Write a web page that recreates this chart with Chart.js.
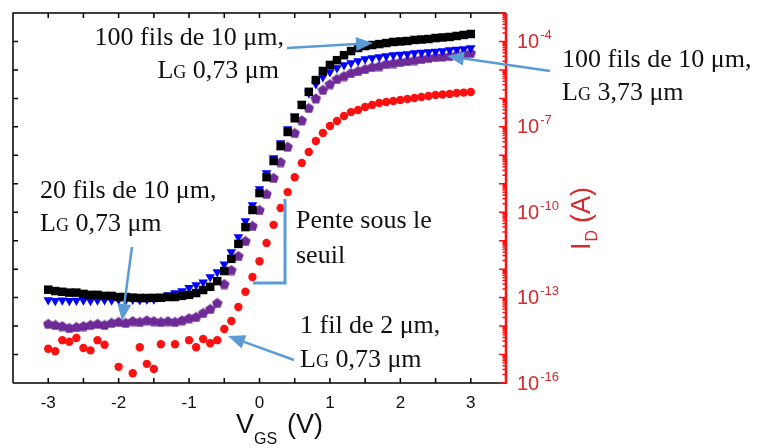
<!DOCTYPE html>
<html>
<head>
<meta charset="utf-8">
<script src="https://cdn.jsdelivr.net/npm/chart.js@4.4.1/dist/chart.umd.min.js"></script>
<style>
  html, body { margin: 0; padding: 0; background: #fff; }
</style>
</head>
<body>
<canvas id="grafico" width="768" height="448"></canvas>
<script>
// V_GS (V)
const vgs = [
  -3, -2.9, -2.8, -2.7, -2.6, -2.5, -2.4, -2.3, -2.2, -2.1,
  -2, -1.9, -1.8, -1.7, -1.6, -1.5, -1.4, -1.3, -1.2, -1.1,
  -1, -0.9, -0.8, -0.7, -0.6, -0.5, -0.4, -0.3, -0.2, -0.1,
  0,
  0.1, 0.2, 0.3, 0.4, 0.5, 0.6, 0.7, 0.8, 0.9, 1,
  1.1, 1.2, 1.3, 1.4, 1.5, 1.6, 1.7, 1.8, 1.9, 2,
  2.1, 2.2, 2.3, 2.4, 2.5, 2.6, 2.7, 2.8, 2.9, 3
];

// I_D (A) — 100 fils de 10 µm, LG 0,73 µm (carrés noirs)
const id100fils073 = [
  1.9e-13, 1.7e-13, 1.6e-13, 1.5e-13, 1.5e-13, 1.35e-13, 1.25e-13, 1.25e-13, 1.15e-13, 1.15e-13,
  1.05e-13, 1.05e-13, 1.0e-13, 9.7e-14, 9.7e-14, 9.8e-14, 9.9e-14, 1.05e-13, 1.05e-13, 1.15e-13,
  1.25e-13, 1.45e-13, 1.85e-13, 2.4e-13, 3.8e-13, 8.6e-13, 2.3e-12, 7.7e-12, 3.0e-11, 1.2e-10,
  4.7e-10,
  1.7e-9, 6.3e-9, 2.1e-8, 6.6e-8, 2.0e-7, 5.9e-7, 1.7e-6, 4.4e-6, 9.2e-6, 1.5e-5,
  2.2e-5, 3.3e-5, 4.6e-5, 5.9e-5, 6.9e-5, 7.5e-5, 8.1e-5, 8.8e-5, 9.6e-5, 1.0e-4,
  1.04e-4, 1.13e-4, 1.17e-4, 1.22e-4, 1.32e-4, 1.38e-4, 1.44e-4, 1.56e-4, 1.69e-4, 1.83e-4
];

// 100 fils de 10 µm, LG 3,73 µm (triangles bleus)
const id100fils373 = [
  8.2e-14, 7.8e-14, 8.0e-14, 7.7e-14, 7.9e-14, 8.1e-14, 7.8e-14, 8.0e-14, 8.3e-14, 8.0e-14,
  8.4e-14, 8.2e-14, 8.5e-14, 8.3e-14, 8.6e-14, 8.8e-14, 1.05e-13, 1.24e-13, 1.45e-13, 1.71e-13,
  2.2e-13, 2.8e-13, 3.5e-13, 5.3e-13, 7.9e-13, 1.5e-12, 4.0e-12, 1.35e-11, 4.9e-11, 1.8e-10,
  6.6e-10,
  2.4e-9, 8.1e-9, 2.7e-8, 8.4e-8, 2.4e-7, 6.4e-7, 1.55e-6, 3.2e-6, 5.6e-6, 8.5e-6,
  1.17e-5, 1.5e-5, 1.75e-5, 2.06e-5, 2.4e-5, 2.6e-5, 2.85e-5, 3.1e-5, 3.35e-5, 3.5e-5,
  3.6e-5, 3.9e-5, 4.1e-5, 4.3e-5, 4.4e-5, 4.6e-5, 5.0e-5, 5.2e-5, 5.4e-5, 5.9e-5
];

// 20 fils de 10 µm, LG 0,73 µm (pentagones violets)
const id20fils073 = [
  1.2e-14, 1.1e-14, 1.0e-14, 8.6e-15, 9.3e-15, 1.0e-14, 1.1e-14, 1.2e-14, 1.1e-14, 1.3e-14,
  1.4e-14, 1.3e-14, 1.5e-14, 1.4e-14, 1.6e-14, 1.5e-14, 1.4e-14, 1.5e-14, 1.4e-14, 1.6e-14,
  1.9e-14, 2.1e-14, 2.9e-14, 4.0e-14, 6.5e-14, 3.0e-13, 9.3e-13, 2.9e-12, 9.8e-12, 3.3e-11,
  1.2e-10,
  4.4e-10, 1.6e-9, 5.8e-9, 2.0e-8, 6.1e-8, 1.7e-7, 4.6e-7, 1.0e-6, 2.0e-6, 3.2e-6,
  4.8e-6, 6.1e-6, 7.8e-6, 9.2e-6, 1.08e-5, 1.27e-5, 1.37e-5, 1.62e-5, 1.75e-5, 1.9e-5,
  2.06e-5, 2.23e-5, 2.42e-5, 2.63e-5, 2.85e-5, 2.97e-5, 3.09e-5, 3.35e-5, 3.63e-5, 3.94e-5
];

// 1 fil de 2 µm, LG 0,73 µm (ronds rouges) — null : point absent
const id1fil073 = [
  1.6e-15, 1.3e-15, 3.2e-15, 2.8e-15, 3.8e-15, 1.7e-15, 1.4e-15, 3.2e-15, 2.2e-15, null,
  3.7e-16, null, 2.2e-16, 1.8e-15, 4.7e-16, 3.1e-16, 2.3e-15, null, 2.3e-15, null,
  3.2e-15, 1.8e-15, 3.5e-15, 2.5e-15, 3.2e-15, 7.9e-15, 1.5e-14, 4.7e-14, 1.6e-13, 5.3e-13,
  1.9e-12,
  8.3e-12, 3.6e-11, 1.4e-10, 5.1e-10, 1.7e-9, 5.4e-9, 1.3e-8, 3.2e-8, 6.1e-8, 1.07e-7,
  1.6e-7, 2.4e-7, 3.3e-7, 3.9e-7, 5.0e-7, 5.9e-7, 6.9e-7, 7.5e-7, 8.1e-7, 8.8e-7,
  9.5e-7, 1.03e-6, 1.12e-6, 1.21e-6, 1.32e-6, 1.37e-6, 1.43e-6, 1.55e-6, 1.6e-6, 1.68e-6
];

// Axes
const xTickLabels = [-3, -2, -1, 0, 1, 2, 3];
const xTickMarks = [-3, -2.5, -2, -1.5, -1, -0.5, 0, 0.5, 1, 1.5, 2, 2.5, 3];
const yLabelExp = [-16, -13, -10, -7, -4];
const yDecadeExp = [-16, -15, -14, -13, -12, -11, -10, -9, -8, -7, -6, -5, -4, -3];

const ROUGE = '#ff1010';
const ROUGE_TXT = '#d42a2f';
const BLEU_FL = '#5b9bd5';
const SANS = '"Liberation Sans", Arial, sans-serif';
const SERIF = '"Liberation Serif", "Times New Roman", serif';

const puntos = serie => vgs.map((v, i) => ({ x: v, y: serie[i] })).filter(p => p.y !== null);

// pentagone pour la série violette
const pentagono = document.createElement('canvas');
pentagono.width = 11;
pentagono.height = 11;
{
  const c = pentagono.getContext('2d');
  c.fillStyle = '#6e2a96';
  c.beginPath();
  for (let k = 0; k < 5; k++) {
    const a = -Math.PI / 2 + k * 2 * Math.PI / 5;
    c.lineTo(5.5 + 5.5 * Math.cos(a), 6 + 5.5 * Math.sin(a));
  }
  c.closePath();
  c.fill();
}

function texto(ctx, partes, x, y, alinear) {
  const anchos = partes.map(([t, s]) => { ctx.font = `${s}px ${SERIF}`; return ctx.measureText(t).width; });
  let cx = alinear === 'right' ? x - anchos.reduce((a, b) => a + b, 0) : x;
  ctx.fillStyle = '#111';
  ctx.textAlign = 'left';
  ctx.textBaseline = 'alphabetic';
  partes.forEach(([t, s], i) => {
    ctx.font = `${s}px ${SERIF}`;
    ctx.fillText(t, cx, y);
    cx += anchos[i];
  });
}

function flecha(ctx, x1, y1, x2, y2) {
  const ang = Math.atan2(y2 - y1, x2 - x1), L = 17, W = 7;
  const bx = x2 - L * Math.cos(ang), by = y2 - L * Math.sin(ang);
  ctx.strokeStyle = BLEU_FL;
  ctx.fillStyle = BLEU_FL;
  ctx.lineWidth = 2.5;
  ctx.beginPath();
  ctx.moveTo(x1, y1);
  ctx.lineTo(bx, by);
  ctx.stroke();
  ctx.beginPath();
  ctx.moveTo(x2, y2);
  ctx.lineTo(bx + W * Math.sin(ang), by - W * Math.cos(ang));
  ctx.lineTo(bx - W * Math.sin(ang), by + W * Math.cos(ang));
  ctx.closePath();
  ctx.fill();
}

// cadre, graduations et textes
const marco = {
  id: 'marco',
  beforeDatasetsDraw(chart) {
    const { ctx, chartArea: a, scales: { x, y } } = chart;
    ctx.save();
    ctx.strokeStyle = '#000';
    ctx.lineWidth = 1.5;
    ctx.beginPath();
    ctx.moveTo(a.left, a.bottom); ctx.lineTo(a.left, a.top); ctx.lineTo(a.right, a.top);
    ctx.moveTo(a.left, a.bottom); ctx.lineTo(a.right, a.bottom);
    xTickMarks.forEach(v => {
      const px = x.getPixelForValue(v);
      ctx.moveTo(px, a.bottom); ctx.lineTo(px, a.bottom - 5);
      ctx.moveTo(px, a.top); ctx.lineTo(px, a.top + 5);
    });
    yDecadeExp.slice(1, -1).forEach(e => {
      const py = y.getPixelForValue(Math.pow(10, e));
      ctx.moveTo(a.left, py); ctx.lineTo(a.left + 5, py);
    });
    ctx.stroke();

    // axe rouge de droite
    ctx.strokeStyle = ROUGE;
    ctx.lineWidth = 2.5;
    ctx.beginPath();
    ctx.moveTo(a.right, a.top); ctx.lineTo(a.right, a.bottom + 1);
    ctx.stroke();
    ctx.lineWidth = 1.5;
    ctx.beginPath();
    yDecadeExp.forEach((e, i) => {
      const py = y.getPixelForValue(Math.pow(10, e));
      ctx.moveTo(a.right, py); ctx.lineTo(a.right - 7, py);
      if (i === yDecadeExp.length - 1) return;
      for (let m = 2; m <= 9; m++) {
        const pm = y.getPixelForValue(m * Math.pow(10, e));
        ctx.moveTo(a.right, pm); ctx.lineTo(a.right - 3.5, pm);
      }
    });
    ctx.stroke();
    ctx.restore();
  },
  afterDraw(chart) {
    const { ctx, chartArea: a, scales: { y } } = chart;
    ctx.save();

    // étiquettes de l'axe rouge
    ctx.fillStyle = ROUGE_TXT;
    ctx.textAlign = 'left';
    ctx.textBaseline = 'middle';
    yLabelExp.forEach(e => {
      const py = y.getPixelForValue(Math.pow(10, e));
      ctx.font = `20px ${SANS}`;
      ctx.fillText('10', a.right + 11, py + 1);
      const w = ctx.measureText('10').width;
      ctx.font = `13px ${SANS}`;
      ctx.fillText(String(e), a.right + 12 + w, py - 6);
    });

    // titre axe X
    ctx.fillStyle = '#111';
    ctx.textBaseline = 'alphabetic';
    ctx.font = `27px ${SANS}`;
    ctx.fillText('V', 236, 433);
    ctx.font = `16px ${SANS}`;
    ctx.fillText('GS', 254, 444);
    ctx.font = `27px ${SANS}`;
    ctx.fillText('(V)', 287, 433);

    // titre axe Y (rouge)
    ctx.save();
    ctx.fillStyle = ROUGE_TXT;
    ctx.translate(590, 250);
    ctx.rotate(-Math.PI / 2);
    ctx.font = `27px ${SANS}`;
    ctx.fillText('I', 0, 0);
    let px = ctx.measureText('I').width;
    ctx.font = `16px ${SANS}`;
    ctx.fillText('D', px + 1, 7);
    px += ctx.measureText('D').width + 8;
    ctx.font = `27px ${SANS}`;
    ctx.fillText('(A)', px, 0);
    ctx.restore();

    // annotations
    const F = 26, f = 18;
    texto(ctx, [['100 fils de 10 μm,', F]], 284, 45, 'right');
    texto(ctx, [['L', F], ['G', f], [' 0,73 μm', F]], 279, 78, 'right');
    flecha(ctx, 287, 48, 373, 43);

    texto(ctx, [['100 fils de 10 μm,', F]], 562, 67);
    texto(ctx, [['L', F], ['G', f], [' 3,73 μm', F]], 562, 100);
    flecha(ctx, 550, 71, 447, 56);

    texto(ctx, [['20 fils de 10 μm,', F]], 40, 198);
    texto(ctx, [['L', F], ['G', f], [' 0,73 μm', F]], 40, 231);
    flecha(ctx, 132, 247, 122, 321);

    texto(ctx, [['Pente sous le', F]], 296, 228);
    texto(ctx, [['seuil', F]], 296, 263);
    ctx.strokeStyle = BLEU_FL;
    ctx.lineWidth = 3;
    ctx.beginPath();
    ctx.moveTo(285, 199); ctx.lineTo(285, 283); ctx.lineTo(253, 283);
    ctx.stroke();

    texto(ctx, [['1 fil de 2 μm,', F]], 300, 333);
    texto(ctx, [['L', F], ['G', f], [' 0,73 μm', F]], 300, 367);
    flecha(ctx, 294, 360, 228, 336);

    ctx.restore();
  }
};

new Chart(document.getElementById('grafico'), {
  type: 'scatter',
  data: {
    datasets: [
      { data: puntos(id100fils073), pointStyle: 'rect', pointRadius: 6, pointBackgroundColor: '#000', pointBorderWidth: 0 },
      { data: puntos(id100fils373), pointStyle: 'triangle', pointRotation: 180, pointRadius: 5.5, pointBackgroundColor: '#0000ff', pointBorderWidth: 0 },
      { data: puntos(id20fils073), pointStyle: pentagono, pointRadius: 5.5, pointBorderWidth: 0 },
      { data: puntos(id1fil073), pointStyle: 'circle', pointRadius: 4.2, pointBackgroundColor: ROUGE, pointBorderWidth: 0 }
    ]
  },
  options: {
    responsive: false,
    animation: false,
    events: [],
    layout: { padding: { left: 13, top: 13, right: 0, bottom: 0 } },
    plugins: { legend: { display: false }, tooltip: { enabled: false } },
    scales: {
      x: {
        type: 'linear',
        min: -3.5,
        max: 3.5,
        grid: { display: false, drawTicks: false },
        border: { display: false },
        afterBuildTicks: s => { s.ticks = xTickLabels.map(v => ({ value: v })); },
        afterFit: s => { s.height = 65; },
        ticks: {
          font: { family: SANS, size: 17 },
          color: '#111',
          padding: 10,
          maxRotation: 0,
          autoSkip: false,
          callback: v => String(v)
        }
      },
      y: {
        type: 'logarithmic',
        position: 'right',
        min: 1e-16,
        max: 1e-3,
        grid: { display: false, drawTicks: false },
        border: { display: false },
        ticks: { display: false },
        afterFit: s => { s.width = 262; }
      }
    }
  },
  plugins: [marco]
});
</script>
</body>
</html>
